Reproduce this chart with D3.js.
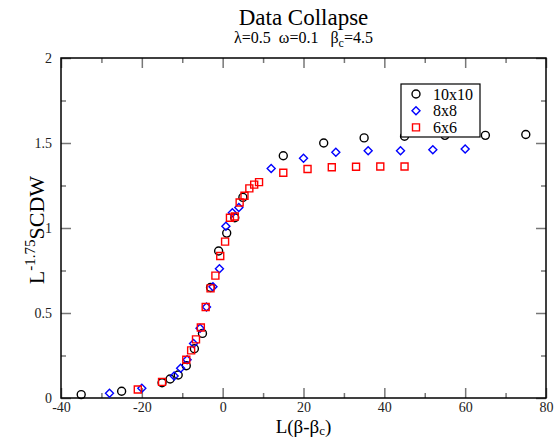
<!DOCTYPE html>
<html>
<head>
<meta charset="utf-8">
<script src="https://cdn.jsdelivr.net/npm/d3@7"></script>
<style>
  body { margin: 0; background: #fff; }
  svg text { font-family: "Times New Roman", "Liberation Serif", Times, "DejaVu Serif", serif; }
</style>
</head>
<body>
<svg id="chart" width="554" height="437"></svg>
<script>
// data: [L(beta-beta_c), L^-1.75 SCDW]
const s10 = [[-35,0.02],[-25,0.04],[-15,0.09],[-13,0.112],[-11,0.135],[-9,0.19],[-7,0.29],[-5,0.38],
  [-3,0.65],[-1,0.865],[1,0.97],[3,1.06],[5,1.18],[15,1.425],[25,1.5],[35,1.53],[45,1.54],[55,1.545],[65,1.545],[75,1.55]]
const s8 = [[-28,0.028],[-20,0.057],[-12,0.13],[-10.4,0.175],[-8.8,0.225],[-7.2,0.32],[-5.6,0.41],[-4,0.535],
  [-2.4,0.655],[-0.8,0.76],[0.8,1.01],[2.4,1.09],[4,1.12],[12,1.35],[20,1.41],[28,1.445],[36,1.455],[44,1.455],[52,1.46],[60,1.465]]
const s6 = [[-21,0.05],[-15,0.095],[-9,0.225],[-7.8,0.28],[-6.6,0.345],[-5.4,0.415],[-4.2,0.535],[-3,0.645],
  [-1.8,0.72],[-0.6,0.835],[0.6,0.92],[1.8,1.06],[3,1.068],[4.2,1.15],[5.4,1.19],[6.6,1.233],[7.8,1.255],[9,1.27],
  [15,1.325],[21,1.347],[27,1.357],[33,1.36],[39,1.362],[45,1.362]]
const xTicks = [-40, -20, 0, 20, 40, 60, 80]
const yTicks = [0, 0.5, 1, 1.5, 2]
const seriesNames = ['10x10', '8x8', '6x6']

const svg = d3.select('#chart')
const mLeft = 61, mRight = 546, mTop = 58, mBottom = 398

const x = d3.scaleLinear().domain([-40, 80]).range([mLeft, mRight])
const y = d3.scaleLinear().domain([0, 2]).range([mBottom, mTop])

const diamond = {
  draw(ctx, size) {
    const r = Math.sqrt(size / 2)
    ctx.moveTo(0, -r); ctx.lineTo(r, 0); ctx.lineTo(0, r); ctx.lineTo(-r, 0); ctx.closePath()
  }
}
const series = [
  { name: seriesNames[0], data: s10, type: d3.symbolCircle, size: 50, color: '#000' },
  { name: seriesNames[1], data: s8, type: diamond, size: 32, color: '#0000ff' },
  { name: seriesNames[2], data: s6, type: d3.symbolSquare, size: 49, color: '#ff0000' },
]

// axes: ticks point inward on all four sides
const tickColor = '#777'
function styleAxis(g) {
  g.attr('font-family', null)
  g.select('.domain').remove()
  g.selectAll('line').attr('stroke', tickColor).attr('stroke-width', 1.5)
  g.selectAll('text').attr('fill', '#222').attr('font-size', 14)
}
const fmt = d => String(d)
const xMinor = d3.range(-30, 80, 20)
const yMinor = [0.25, 0.75, 1.25, 1.75]

svg.append('g').attr('transform', `translate(0,${mBottom})`)
  .call(d3.axisBottom(x).tickValues(xTicks).tickFormat(fmt).tickSizeInner(-10).tickSizeOuter(0).tickPadding(4))
  .call(styleAxis)
svg.append('g').attr('transform', `translate(0,${mBottom})`)
  .call(d3.axisBottom(x).tickValues(xMinor).tickFormat('').tickSize(-5))
  .call(styleAxis)
svg.append('g').attr('transform', `translate(0,${mTop})`)
  .call(d3.axisTop(x).tickValues(xTicks).tickFormat('').tickSize(-10))
  .call(styleAxis)
svg.append('g').attr('transform', `translate(0,${mTop})`)
  .call(d3.axisTop(x).tickValues(xMinor).tickFormat('').tickSize(-5))
  .call(styleAxis)

svg.append('g').attr('transform', `translate(${mLeft},0)`)
  .call(d3.axisLeft(y).tickValues(yTicks).tickFormat(fmt).tickSizeInner(-10).tickSizeOuter(0).tickPadding(9))
  .call(styleAxis)
svg.append('g').attr('transform', `translate(${mLeft},0)`)
  .call(d3.axisLeft(y).tickValues(yMinor).tickFormat('').tickSize(-5))
  .call(styleAxis)
svg.append('g').attr('transform', `translate(${mRight},0)`)
  .call(d3.axisRight(y).tickValues(yTicks).tickFormat('').tickSize(-10))
  .call(styleAxis)
svg.append('g').attr('transform', `translate(${mRight},0)`)
  .call(d3.axisRight(y).tickValues(yMinor).tickFormat('').tickSize(-5))
  .call(styleAxis)

// frame
svg.append('rect')
  .attr('x', mLeft).attr('y', mTop)
  .attr('width', mRight - mLeft).attr('height', mBottom - mTop)
  .attr('fill', 'none').attr('stroke', '#000').attr('stroke-width', 1.5)

// points
series.forEach(s => {
  const sym = d3.symbol().type(s.type).size(s.size)
  svg.append('g').selectAll('path')
    .data(s.data)
    .join('path')
    .attr('transform', d => `translate(${x(d[0])},${y(d[1])})`)
    .attr('d', sym)
    .attr('fill', 'none')
    .attr('stroke', s.color)
    .attr('stroke-width', 1.4)
})

// legend
const lg = svg.append('g').attr('transform', 'translate(401,84)')
lg.append('rect').attr('width', 79).attr('height', 53)
  .attr('fill', '#fff').attr('stroke', '#000').attr('stroke-width', 1.2)
series.forEach((s, i) => {
  const row = lg.append('g').attr('transform', `translate(0,${10 + i * 16.7})`)
  row.append('path').attr('transform', 'translate(15,0)')
    .attr('d', d3.symbol().type(s.type).size(s.size)())
    .attr('fill', 'none').attr('stroke', s.color).attr('stroke-width', 1.4)
  row.append('text').attr('x', 32).attr('y', 5.5)
    .attr('font-size', 16).text(s.name)
})

// titles
const cx = (mLeft + mRight) / 2
svg.append('text').attr('x', cx).attr('y', 25).attr('text-anchor', 'middle')
  .attr('font-size', 23).text('Data Collapse')
const sub = svg.append('text').attr('x', cx).attr('y', 43).attr('text-anchor', 'middle')
  .attr('font-size', 16).attr('xml:space', 'preserve')
sub.append('tspan').text('λ=0.5  ω=0.1   β')
sub.append('tspan').attr('font-size', 12).attr('dy', 4).text('c')
sub.append('tspan').attr('dy', -4).text('=4.5')

// axis labels
const xl = svg.append('text').attr('x', cx).attr('y', 433).attr('text-anchor', 'middle')
  .attr('font-size', 19)
xl.append('tspan').text('L(β-β')
xl.append('tspan').attr('font-size', 13).attr('dy', 2).text('c')
xl.append('tspan').attr('dy', -2).text(')')

const yl = svg.append('text').attr('transform', 'translate(44,230) rotate(-90)')
  .attr('text-anchor', 'middle').attr('font-size', 22)
yl.append('tspan').text('L')
yl.append('tspan').attr('font-size', 15).attr('dy', -9).text('-1.75')
yl.append('tspan').attr('dy', 9).text('SCDW')
</script>
</body>
</html>
